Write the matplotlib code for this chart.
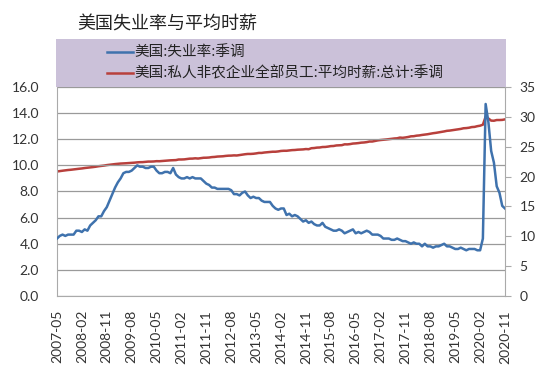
import matplotlib
matplotlib.use("Agg")
import matplotlib.pyplot as plt
import matplotlib.patches as mpatches

plt.rcParams['font.family'] = ['Noto Sans CJK SC', 'DejaVu Sans']

# monthly, 2007-05 .. 2020-11
unemp = [
    4.4, 4.6, 4.7, 4.6, 4.7, 4.7, 4.7, 5.0,
    5.0, 4.9, 5.1, 5.0, 5.4, 5.6, 5.8, 6.1, 6.1, 6.5, 6.8, 7.3,
    7.8, 8.3, 8.7, 9.0, 9.4, 9.5, 9.5, 9.6, 9.8, 10.0, 9.9, 9.9,
    9.8, 9.8, 9.9, 9.9, 9.6, 9.4, 9.4, 9.5, 9.5, 9.4, 9.8, 9.3,
    9.1, 9.0, 9.0, 9.1, 9.0, 9.1, 9.0, 9.0, 9.0, 8.8, 8.6, 8.5,
    8.3, 8.3, 8.2, 8.2, 8.2, 8.2, 8.2, 8.1, 7.8, 7.8, 7.7, 7.9,
    8.0, 7.7, 7.5, 7.6, 7.5, 7.5, 7.3, 7.2, 7.2, 7.2, 6.9, 6.7,
    6.6, 6.7, 6.7, 6.2, 6.3, 6.1, 6.2, 6.1, 5.9, 5.7, 5.8, 5.6,
    5.7, 5.5, 5.4, 5.4, 5.6, 5.3, 5.2, 5.1, 5.0, 5.0, 5.1, 5.0,
    4.8, 4.9, 5.0, 5.1, 4.8, 4.9, 4.8, 4.9, 5.0, 4.9, 4.7, 4.7,
    4.7, 4.6, 4.4, 4.4, 4.4, 4.3, 4.3, 4.4, 4.3, 4.2, 4.2, 4.1,
    4.0, 4.1, 4.0, 4.0, 3.8, 4.0, 3.8, 3.8, 3.7, 3.8, 3.8, 3.9,
    4.0, 3.8, 3.8, 3.7, 3.6, 3.6, 3.7, 3.6, 3.5, 3.6, 3.6, 3.6,
    3.5, 3.5, 4.4, 14.7, 13.3, 11.1, 10.2, 8.4, 7.9, 6.9, 6.7,
]

wage = [
    20.85, 20.92, 20.98, 21.04, 21.10, 21.14, 21.20, 21.25,
    21.31, 21.36, 21.43, 21.48, 21.53, 21.59, 21.65, 21.73, 21.78, 21.84, 21.92, 21.98,
    22.04, 22.09, 22.14, 22.18, 22.20, 22.23, 22.26, 22.30, 22.33, 22.38, 22.41, 22.42,
    22.47, 22.51, 22.51, 22.53, 22.58, 22.57, 22.61, 22.66, 22.68, 22.72, 22.74, 22.76,
    22.86, 22.86, 22.88, 22.94, 23.00, 23.01, 23.06, 23.02, 23.09, 23.15, 23.16, 23.19,
    23.26, 23.29, 23.35, 23.38, 23.40, 23.46, 23.50, 23.51, 23.55, 23.53, 23.60, 23.66,
    23.74, 23.79, 23.79, 23.82, 23.88, 23.96, 23.96, 24.03, 24.07, 24.10, 24.16, 24.16,
    24.21, 24.29, 24.32, 24.32, 24.38, 24.43, 24.45, 24.50, 24.52, 24.55, 24.61, 24.58,
    24.75, 24.78, 24.85, 24.87, 24.95, 24.96, 25.02, 25.10, 25.12, 25.21, 25.24, 25.26,
    25.40, 25.39, 25.44, 25.53, 25.56, 25.61, 25.68, 25.71, 25.77, 25.87, 25.87, 25.97,
    26.06, 26.12, 26.16, 26.21, 26.26, 26.32, 26.38, 26.41, 26.53, 26.49, 26.55, 26.63,
    26.74, 26.76, 26.85, 26.89, 26.97, 27.03, 27.09, 27.18, 27.26, 27.32, 27.40, 27.49,
    27.56, 27.66, 27.70, 27.77, 27.84, 27.90, 27.98, 28.09, 28.12, 28.18, 28.29, 28.32,
    28.44, 28.52, 28.69, 30.03, 29.72, 29.37, 29.35, 29.47, 29.47, 29.49, 29.58,
]

tick_labels = ['2007-05', '2008-02', '2008-11', '2009-08', '2010-05', '2011-02',
               '2011-11', '2012-08', '2013-05', '2014-02', '2014-11', '2015-08',
               '2016-05', '2017-02', '2017-11', '2018-08', '2019-05', '2020-02',
               '2020-11']

title = '美国失业率与平均时薪'
name1 = '美国:失业率:季调'
name2 = '美国:私人非农企业全部员工:平均时薪:总计:季调'

blue = '#3f72ad'
red = '#b8403c'
grid_c = '#9a9a9a'

fig = plt.figure(figsize=(5.5, 3.86), dpi=100)
ax = fig.add_axes([57/550, 90/386, 448/550, 209/386])
ax2 = ax.twinx()

x = list(range(len(unemp)))
ax2.plot(x, wage, color=red, lw=1.8, zorder=2)
ax.plot(x, unemp, color=blue, lw=1.8, zorder=3)
ax.set_zorder(ax2.get_zorder() + 1)
ax.patch.set_visible(False)

ax.set_xlim(0, len(unemp) - 1)
ax.set_ylim(0, 16)
ax.set_yticks([0, 2, 4, 6, 8, 10, 12, 14, 16])
ax.set_yticklabels(['%.1f' % v for v in ax.get_yticks()])
ax2.set_ylim(0, 35)
ax2.set_yticks([0, 5, 10, 15, 20, 25, 30, 35])

ax.set_xticks(range(0, len(unemp), 9))
ax.set_xticklabels(tick_labels, rotation=90, fontsize=9.5, color='#333333',
                   family=['Lato', 'DejaVu Sans'])
ax.yaxis.grid(True, color=grid_c, lw=0.9)
ax.set_axisbelow(True)

for a in (ax, ax2):
    for s in a.spines.values():
        s.set_visible(False)
    a.tick_params(length=0, labelsize=10, labelcolor='#333333')
ax.tick_params(axis='x', length=0, pad=10)
ax.tick_params(axis='y', length=0, pad=13)
ax.spines['left'].set_visible(True)
ax.spines['left'].set_color('#aaaaaa')
ax.spines['bottom'].set_visible(True)
ax.spines['bottom'].set_color('#aaaaaa')
ax2.spines['right'].set_visible(True)
ax2.spines['right'].set_color('#aaaaaa')
ax2.tick_params(axis='y', length=4.5, color='#aaaaaa', pad=6)
for lab in ax.get_yticklabels() + ax2.get_yticklabels():
    lab.set_family(['Lato', 'DejaVu Sans'])

# legend band
fig.patches.append(mpatches.Rectangle((56/550, (386-87)/386), 450/550, 48/386,
                                      transform=fig.transFigure, facecolor='#cbc1d9',
                                      edgecolor='none', zorder=0))
for yy, c, name in [(52, blue, name1), (73, red, name2)]:
    yf = (386 - yy) / 386
    fig.lines.append(plt.Line2D([107/550, 133/550], [yf, yf], color=c, lw=1.8,
                                transform=fig.transFigure))
    fig.text(134/550, yf, name, fontsize=10.5, va='center', ha='left', color='#222222')

fig.text(77/550, (386-25)/386, title, fontsize=13, va='center', ha='left', color='#222222')

fig.savefig('out.png', dpi=100)
